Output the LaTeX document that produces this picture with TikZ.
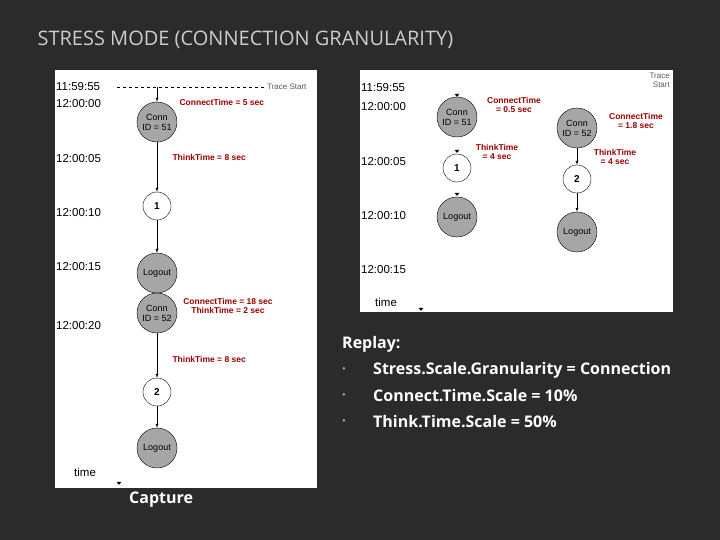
\documentclass[tikz,border=0pt]{standalone}
\usepackage{fontspec}
\usetikzlibrary{shapes.geometric}
\setmainfont{Liberation Sans}
\newfontfamily\slidefont{Open Sans}
\begin{document}
\begin{tikzpicture}[x=1pt,y=-1pt,
  tm/.style={anchor=west,font=\fontsize{11.5}{12}\selectfont,inner sep=1pt},
  gnode/.style={circle,draw=black,fill=gray!70,minimum size=40pt,inner sep=0pt,align=center,font=\fontsize{9}{10}\selectfont},
  wnode/.style={circle,draw=black,fill=white,minimum size=28pt,inner sep=0pt,font=\bfseries\fontsize{10}{11}\selectfont},
  rlab/.style={text=red!60!black,font=\bfseries\fontsize{8.5}{9.5}\selectfont,align=center},
  arr/.style={->,>=latex},
  tmark/.style={fill=black,isosceles triangle,shape border rotate=-90,inner sep=0pt,minimum width=5pt,minimum height=3pt,isosceles triangle stretches},
  slide/.style={text=white,font=\slidefont\bfseries\fontsize{16}{18}\selectfont,anchor=west,inner sep=0pt}]
\fill[fill={rgb,255:red,43;green,43;blue,43}] (0,0) rectangle (720,540);
\node[anchor=west,text=gray!40,font=\slidefont\fontsize{20}{22}\selectfont] (title) at (34,40) {STRESS MODE (CONNECTION GRANULARITY)};
% left panel
\fill[white] (55,70) rectangle (317,488);
\node[tm] (l1) at (55,87) {11:59:55};
\node[tm] (l2) at (55,104) {12:00:00};
\node[tm] (l3) at (55,159) {12:00:05};
\node[tm] (l4) at (55,213) {12:00:10};
\node[tm] (l5) at (55,267) {12:00:15};
\node[tm] (l6) at (55,326) {12:00:20};
\node[tm] (ltime) at (73,472) {time};
\node[tmark] (lmark) at (119,483) {};
\coordinate (ds) at (117,87);
\coordinate (dm) at (157,87);
\node[anchor=west,text=gray!70!black,font=\fontsize{8}{9}\selectfont,inner sep=1pt] (lts) at (266,87) {Trace Start};
\draw[dashed] (ds) -- (lts.west);
\node[gnode] (a1) at (157,122) {Conn\\ID = 51};
\node[wnode] (a2) at (157,206) {1};
\node[gnode] (a3) at (157,273) {Logout};
\node[gnode] (a4) at (157,313) {Conn\\ID = 52};
\node[wnode] (a5) at (157,392) {2};
\node[gnode] (a6) at (157,448) {Logout};
\draw[arr] (dm) -- (a1);
\draw[arr] (a1) -- (a2);
\draw[arr] (a2) -- (a3);
\draw[arr] (a4) -- (a5);
\draw[arr] (a5) -- (a6);
\node[rlab,anchor=west] (r1) at (176,102) {ConnectTime = 5 sec};
\node[rlab,anchor=west] (r2) at (169,157) {ThinkTime = 8 sec};
\node[rlab] (r3) at (228,306) {ConnectTime = 18 sec\\ThinkTime = 2 sec};
\node[rlab,anchor=west] (r4) at (169,359) {ThinkTime = 8 sec};
% right panel
\fill[white] (360,70) rectangle (673,312);
\node[tm] (m1) at (360,88) {11:59:55};
\node[tm] (m2) at (360,107) {12:00:00};
\node[tm] (m3) at (360,162) {12:00:05};
\node[tm] (m4) at (360,216) {12:00:10};
\node[tm] (m5) at (360,270) {12:00:15};
\node[tm] (mtime) at (374,302) {time};
\node[tmark] (mm0) at (421,309) {};
\node[align=right,anchor=north east,text=gray!70!black,font=\fontsize{8}{9}\selectfont,inner sep=1pt] (mts) at (671,72) {Trace\\Start};
\node[gnode] (b1) at (457,117) {Conn\\ID = 51};
\node[wnode] (b2) at (457,168) {1};
\node[gnode] (b3) at (457,217) {Logout};
\node[tmark] (mk1) at (457,95) {};
\node[tmark] (mk2) at (457,151) {};
\node[tmark] (mk3) at (457,194) {};
\node[gnode] (c1) at (577,128) {Conn\\ID = 52};
\node[wnode] (c2) at (577,179) {2};
\node[gnode] (c3) at (577,232) {Logout};
\draw[arr] (c1) -- (c2);
\draw[arr] (c2) -- (c3);
\node[rlab] (s1) at (514,105) {ConnectTime\\= 0.5 sec};
\node[rlab] (s2) at (497,152) {ThinkTime\\= 4 sec};
\node[rlab] (s3) at (636,121) {ConnectTime\\= 1.8 sec};
\node[rlab] (s4) at (615,157) {ThinkTime\\= 4 sec};
% text
\node[slide] (rep) at (342,344) {Replay:};
\node[slide,text=gray!60,font=\slidefont\fontsize{10}{12}\selectfont] (bl1) at (342,370) {\textbullet};
\node[slide,text=gray!60,font=\slidefont\fontsize{10}{12}\selectfont] (bl2) at (342,396) {\textbullet};
\node[slide,text=gray!60,font=\slidefont\fontsize{10}{12}\selectfont] (bl3) at (342,422) {\textbullet};
\node[slide] (t1) at (373,370) {Stress.Scale.Granularity = Connection};
\node[slide] (t2) at (373,396) {Connect.Time.Scale = 10\%};
\node[slide] (t3) at (373,422) {Think.Time.Scale = 50\%};
\node[slide] (cap) at (129,500) {Capture};
\end{tikzpicture}
\end{document}
